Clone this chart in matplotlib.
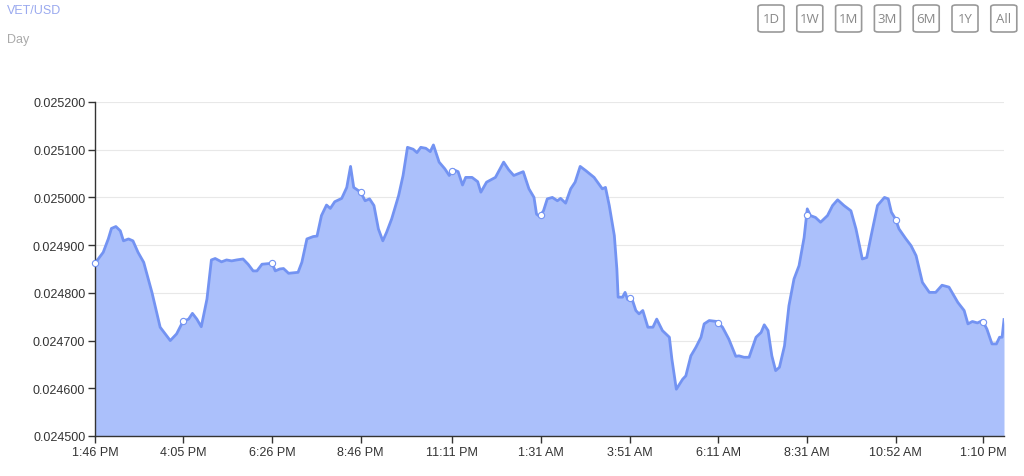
import numpy as np
import matplotlib
matplotlib.use("Agg")
import matplotlib.pyplot as plt
from matplotlib.patches import FancyBboxPatch

# minutes since 1:46 PM, VET price in USD
minutes = [0, 13, 21, 26, 33, 40, 45, 53, 60, 68, 77, 90, 103, 119, 129, 139, 148, 154,
           161, 168, 177, 184, 190, 200, 208, 216, 224, 234, 242, 250, 256, 264, 280, 285,
           292, 298, 306, 321, 327, 335, 345, 351, 358, 366, 372, 379, 390, 398, 404, 409,
           420, 427, 434, 441, 448, 455, 461, 469, 480, 487, 494, 503, 509, 515, 523, 530,
           535, 544, 553, 560, 567, 574, 581, 586, 596, 605, 610, 619, 633, 646, 654, 662,
           677, 686, 694, 698, 703, 709, 715, 723, 731, 736, 744, 752, 759, 767, 776, 789,
           802, 807, 813, 821, 825, 827, 834, 838, 842, 848, 855, 860, 866, 874, 882, 888,
           897, 908, 912, 919, 929, 934, 942, 950, 958, 963, 971, 983, 992, 1002, 1013, 1018,
           1026, 1034, 1045, 1053, 1058, 1064, 1070, 1076, 1082, 1090, 1097, 1105, 1113, 1121,
           1126, 1131, 1139, 1147, 1158, 1166, 1174, 1184, 1195, 1203, 1213, 1220, 1227, 1237,
           1248, 1254, 1259, 1265, 1271, 1282, 1290, 1298, 1308, 1319, 1329, 1339, 1350, 1364,
           1374, 1380, 1387, 1395, 1403, 1410, 1418, 1425, 1430, 1434, 1437]
price = [0.024862, 0.024885, 0.024913, 0.024935, 0.024939, 0.024930, 0.024909, 0.024913,
         0.024909, 0.024885, 0.024864, 0.024801, 0.024728, 0.024700, 0.024714, 0.024740,
         0.024745, 0.024757, 0.024745, 0.024729, 0.024787, 0.024869, 0.024872, 0.024865,
         0.024869, 0.024867, 0.024869, 0.024871, 0.024860, 0.024846, 0.024846, 0.024860,
         0.024862, 0.024846, 0.024850, 0.024851, 0.024841, 0.024843, 0.024864, 0.024913,
         0.024918, 0.024919, 0.024962, 0.024984, 0.024977, 0.024991, 0.024998, 0.025021,
         0.025065, 0.025021, 0.025011, 0.024993, 0.024997, 0.024983, 0.024934, 0.024909,
         0.024927, 0.024955, 0.025004, 0.025046, 0.025105, 0.025101, 0.025094, 0.025105,
         0.025103, 0.025096, 0.025110, 0.025074, 0.025060, 0.025046, 0.025058, 0.025054,
         0.025026, 0.025042, 0.025042, 0.025033, 0.025011, 0.025032, 0.025042, 0.025074,
         0.025058, 0.025046, 0.025054, 0.025018, 0.025000, 0.024965, 0.024960, 0.024972,
         0.024997, 0.025000, 0.024993, 0.024998, 0.024988, 0.025018, 0.025032, 0.025065,
         0.025056, 0.025042, 0.025018, 0.025021, 0.024983, 0.024920, 0.024850, 0.024791,
         0.024791, 0.024801, 0.024786, 0.024791, 0.024763, 0.024756, 0.024763, 0.024728,
         0.024728, 0.024745, 0.024721, 0.024707, 0.024661, 0.024598, 0.024619, 0.024626,
         0.024668, 0.024686, 0.024707, 0.024735, 0.024742, 0.024740, 0.024728, 0.024703,
         0.024667, 0.024668, 0.024665, 0.024665, 0.024707, 0.024717, 0.024733, 0.024721,
         0.024668, 0.024637, 0.024644, 0.024689, 0.024773, 0.024829, 0.024857, 0.024916,
         0.024976, 0.024962, 0.024958, 0.024948, 0.024962, 0.024983, 0.024995, 0.024983,
         0.024972, 0.024934, 0.024871, 0.024874, 0.024920, 0.024983, 0.025000, 0.024997,
         0.024969, 0.024956, 0.024934, 0.024913, 0.024899, 0.024878, 0.024822, 0.024801,
         0.024801, 0.024816, 0.024812, 0.024780, 0.024763, 0.024735, 0.024740, 0.024737,
         0.024742, 0.024724, 0.024693, 0.024693, 0.024707, 0.024707, 0.024744]

tick_labels = ["1:46 PM", "4:05 PM", "6:26 PM", "8:46 PM", "11:11 PM", "1:31 AM",
               "3:51 AM", "6:11 AM", "8:31 AM", "10:52 AM", "1:10 PM"]
y_ticks = [0.0245, 0.0246, 0.0247, 0.0248, 0.0249, 0.0250, 0.0251, 0.0252]
buttons = ["1D", "1W", "1M", "3M", "6M", "1Y", "All"]


def to_minutes(lbl, start=13 * 60 + 46):
    hm, ampm = lbl.split()
    h, m = map(int, hm.split(":"))
    h = h % 12 + (12 if ampm == "PM" else 0)
    return (h * 60 + m - start) % (24 * 60)


tick_pos = [to_minutes(l) for l in tick_labels]

plt.rcParams['font.family'] = ['Liberation Sans', 'DejaVu Sans']

W, H = 1024, 477
fig = plt.figure(figsize=(W / 100, H / 100), dpi=100)
ax = fig.add_axes([95 / W, 1 - 437 / H, (1004 - 95) / W, (437 - 103) / H])

line_col = "#7393f2"
fill_col = "#abc0fb"
ax.fill_between(minutes, price, 0.0245, color=fill_col, lw=0)
ax.plot(minutes, price, color=line_col, lw=2, solid_joinstyle="round")
ax.plot(tick_pos, np.interp(tick_pos, minutes, price), "o", ms=4.5,
        mfc="white", mec=line_col, mew=0.8, clip_on=False, zorder=5)

ax.set_xlim(0, minutes[-1])
ax.set_ylim(0.0245, 0.0252)
ax.set_yticks(y_ticks)
ax.set_yticklabels([f"{v:.6f}" for v in y_ticks])
ax.set_xticks(tick_pos)
ax.set_xticklabels(tick_labels)
ax.grid(axis="y", color="#e8e8e8", lw=0.8)
ax.set_axisbelow(True)
for s in ["top", "right"]:
    ax.spines[s].set_visible(False)
for s in ["left", "bottom"]:
    ax.spines[s].set_color("#333333")
    ax.spines[s].set_linewidth(1)
ax.tick_params(colors="#333333", labelsize=9, length=5, width=1, pad=2)

fig.text(7 / W, 1 - 11 / H, "VET/USD", color="#9aa9ef", fontsize=9, va="center")
fig.text(7 / W, 1 - 40 / H, "Day", color="#aaaaaa", fontsize=9, va="center")

for i, b in enumerate(buttons):
    x0 = 758 + i * 38.8
    fig.patches.append(FancyBboxPatch((x0 / W, 1 - 33 / H), 26 / W, 27 / H,
                                      boxstyle="round,pad=0,rounding_size=0.004",
                                      transform=fig.transFigure, fc="white",
                                      ec="#999999", lw=1.2))
    fig.text((x0 + 13) / W, 1 - 19.5 / H, b, color="#888888", fontsize=9.5,
             family=["Open Sans", "DejaVu Sans"], ha="center", va="center")

fig.savefig("out.png", dpi=100)
